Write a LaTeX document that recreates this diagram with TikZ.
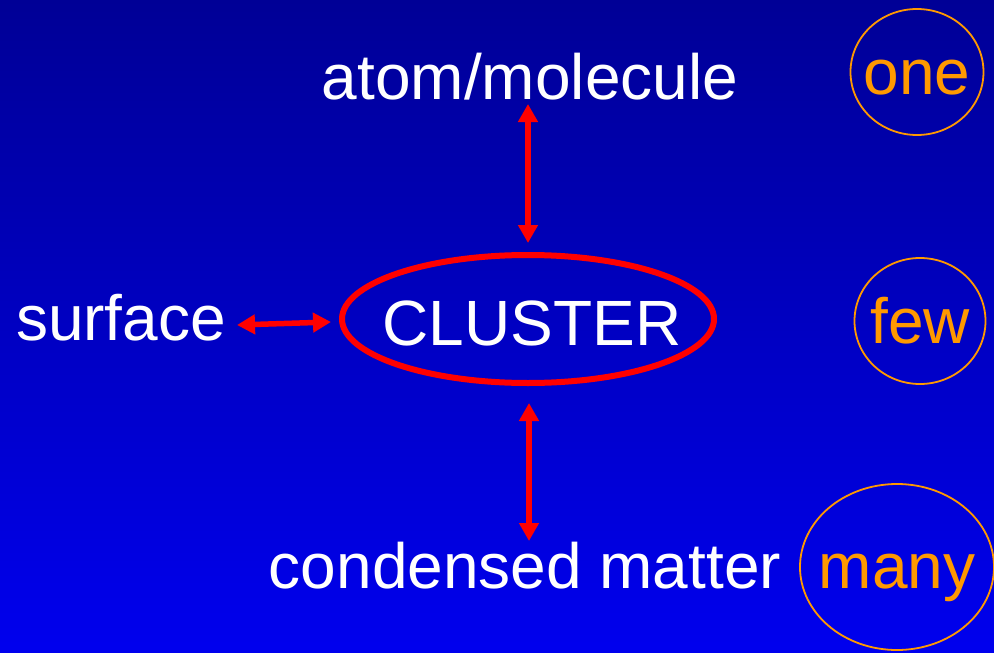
\documentclass[tikz,border=0pt]{standalone}
\usepackage{fontspec}
\setmainfont{Liberation Sans}
\usetikzlibrary{arrows.meta,shapes.geometric}
\definecolor{bgtop}{RGB}{0,0,150}
\definecolor{bgbot}{RGB}{0,0,238}
\definecolor{org}{RGB}{255,153,0}
\definecolor{rd}{RGB}{255,0,0}
\tikzset{
  lbl/.style={text=white,inner sep=0pt,anchor=base,font=\fontsize{64}{70}\selectfont},
  olbl/.style={text=org,inner sep=0pt,anchor=base,font=\fontsize{64}{70}\selectfont},
  ring/.style={draw=org,line width=1.8pt,ellipse,inner sep=0pt},
  arr/.style={draw=rd,line width=5.5pt,{Triangle[width=19pt,length=18pt]}-{Triangle[width=19pt,length=18pt]}}
}
\begin{document}
\begin{tikzpicture}[x=1pt,y=-1pt]
\useasboundingbox (0,0) rectangle (994,653);
\shade[top color=bgtop,bottom color=bgbot] (0,0) rectangle (994,653);
% text
\node[lbl] (atom) at (530,99) {atom/molecule};
\node[lbl] (surf) at (121,340) {surface};
\node[lbl] (cond) at (525,588) {condensed matter};
\node[draw=rd,line width=6pt,ellipse,minimum width=372pt,minimum height=128pt,inner sep=0pt] (cluster) at (528,319) {};
\node[lbl] (cltext) at (532,345) {CLUSTER};
% rings
\node[ring,minimum width=133pt,minimum height=126pt] (r1) at (917,72) {};
\node[olbl] (one) at (917,94) {one};
\node[ring,minimum width=131pt,minimum height=126pt] (r2) at (920,321) {};
\node[olbl] (few) at (920,343) {few};
\node[ring,minimum width=194pt,minimum height=166pt] (r3) at (897,567) {};
\node[olbl] (many) at (897,588) {many};
% arrows
\coordinate (a1) at (528,104);
\coordinate (a2) at (528,243);
\coordinate (b1) at (529,403);
\coordinate (b2) at (529,541);
\coordinate (c1) at (237,325);
\coordinate (c2) at (331,322);
\draw[arr] (a1) -- (a2);
\draw[arr] (b1) -- (b2);
\draw[arr] (c1) -- (c2);
\end{tikzpicture}
\end{document}
